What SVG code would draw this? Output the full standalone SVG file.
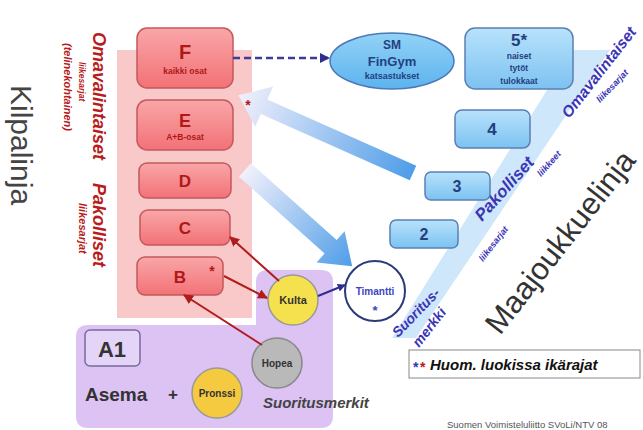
<svg xmlns="http://www.w3.org/2000/svg" width="643" height="430" viewBox="0 0 643 430">
<defs>
<style>
text{font-family:"Liberation Sans",Arial,sans-serif;}
.rb{fill:url(#gRed);stroke:#c4585c;stroke-width:1.5;}
.rt{fill:#b01818;font-weight:bold;text-anchor:middle;}
.bb{fill:url(#gBlue);stroke:#5b7fb5;stroke-width:1.5;}
.bt{fill:#23407f;font-weight:bold;text-anchor:middle;}
.lt{fill:#b81c1c;font-weight:bold;font-style:italic;}
.vt{fill:#3b35b5;font-weight:bold;font-style:italic;}
.ct{fill:#333;font-weight:bold;text-anchor:middle;}
.red{stroke:#b01c1c;stroke-width:2;fill:none;marker-end:url(#mRed);}
</style>
<linearGradient id="gRed" x1="0" y1="0" x2="0" y2="1"><stop offset="0" stop-color="#f9a6a8"/><stop offset="1" stop-color="#f27277"/></linearGradient>
<linearGradient id="gBlue" x1="0" y1="0" x2="0" y2="1"><stop offset="0" stop-color="#b8e2fb"/><stop offset="1" stop-color="#7cc2f1"/></linearGradient>
<linearGradient id="gEll" x1="0" y1="0" x2="0" y2="1"><stop offset="0" stop-color="#92d2f6"/><stop offset="1" stop-color="#5cb3ee"/></linearGradient>
<linearGradient id="gA1" gradientUnits="userSpaceOnUse" x1="0" y1="0" x2="191" y2="0"><stop offset="0" stop-color="#4f9de8"/><stop offset="1" stop-color="#f2f0fb"/></linearGradient>
<linearGradient id="gA2" gradientUnits="userSpaceOnUse" x1="0" y1="0" x2="144" y2="0"><stop offset="0" stop-color="#f2f0fb"/><stop offset="1" stop-color="#4f9de8"/></linearGradient>
<marker id="mRed" viewBox="0 0 10 10" refX="9" refY="5" markerWidth="5" markerHeight="5" orient="auto"><path d="M0,0 L10,5 L0,10 Z" fill="#b01c1c"/></marker>
<marker id="mNavy" viewBox="0 0 10 10" refX="9" refY="5" markerWidth="4" markerHeight="4" orient="auto"><path d="M0,0 L10,5 L0,10 Z" fill="#2e2e8c"/></marker>
</defs>
<rect width="643" height="430" fill="#fff"/>

<!-- backgrounds -->
<rect x="117" y="50" width="135" height="268" fill="#f9c8c9"/>
<path d="M268,270 H321 Q333,270 333,282 V416 Q333,428 321,428 H88 Q76,428 76,416 V337 Q76,325 88,325 H256 V282 Q256,270 268,270 Z" fill="#dcc3f4"/>
<polygon points="572,50 610,50 416,338 392,338" fill="#cfe7fa"/>

<!-- block arrows -->
<polygon transform="translate(413,173) rotate(204)" points="0,-8 163,-8 163,-22 191,0 163,22 163,8 0,8" fill="url(#gA1)"/>
<polygon transform="translate(245,170) rotate(41.9)" points="0,-9 115,-9 115,-21 144,0 115,21 115,9 0,9" fill="url(#gA2)"/>

<!-- left labels -->
<text transform="translate(11,85) rotate(90)" font-size="30" fill="#444">Kilpalinja</text>
<text class="lt" transform="translate(93,32) rotate(90)" font-size="18">Omavalintaiset</text>
<text class="lt" transform="translate(79,62) rotate(90)" font-size="8.5">liikesarjat</text>
<text class="lt" transform="translate(64,43) rotate(90)" font-size="11">(telinekohtainen)</text>
<text class="lt" transform="translate(93,183) rotate(90)" font-size="18">Pakolliset</text>
<text class="lt" transform="translate(79,203) rotate(90)" font-size="11">liikesarjat</text>

<!-- right labels -->
<text class="vt" transform="translate(569,119) rotate(-52)" font-size="15.5">Omavalintaiset</text>
<text class="vt" transform="translate(600,103) rotate(-46)" font-size="9">liikesarjat</text>
<text class="vt" transform="translate(482,222) rotate(-48)" font-size="17">Pakolliset</text>
<text class="vt" transform="translate(541,177) rotate(-48)" font-size="9">liikkeet</text>
<text class="vt" transform="translate(483,262) rotate(-52)" font-size="9">liikesarjat</text>
<text class="vt" transform="translate(398,338) rotate(-46)" font-size="14">Suoritus-</text>
<text class="vt" transform="translate(419,348) rotate(-52)" font-size="14">merkki</text>
<text transform="translate(500,336) rotate(-52)" font-size="31" fill="#333">Maajoukkuelinja</text>

<!-- nodes -->
<g id="F"><rect class="rb" x="137" y="28" width="96" height="60" rx="10"/><text class="rt" x="185" y="59" font-size="20">F</text><text class="rt" x="185" y="74" font-size="8.5">kaikki osat</text></g>
<g id="E"><rect class="rb" x="137" y="100" width="96" height="50" rx="10"/><text class="rt" x="185" y="127" font-size="18">E</text><text class="rt" x="185" y="140" font-size="8.5">A+B-osat</text></g>
<g id="D"><rect class="rb" x="139" y="163" width="92" height="35" rx="8"/><text class="rt" x="185" y="187" font-size="17">D</text></g>
<g id="C"><rect class="rb" x="140" y="210" width="90" height="35" rx="8"/><text class="rt" x="185" y="234" font-size="17">C</text></g>
<g id="B"><rect class="rb" x="137" y="257" width="86" height="38" rx="8"/><text class="rt" x="180" y="283" font-size="17">B</text><text class="rt" x="212" y="276" font-size="14">*</text></g>
<g id="Estar"><text class="rt" x="248" y="110" font-size="14">*</text></g>

<g id="SM"><ellipse cx="392" cy="61" rx="62" ry="28" fill="url(#gEll)" stroke="#4a78b8" stroke-width="1.5"/><text class="bt" x="392" y="49" font-size="12">SM</text><text class="bt" x="392" y="66" font-size="13">FinGym</text><text class="bt" x="392" y="79" font-size="9">katsastukset</text></g>
<g id="L5"><rect class="bb" x="465" y="28" width="108" height="61" rx="10"/><text class="bt" x="519" y="46" font-size="17">5*</text><text class="bt" x="519" y="59" font-size="8.5" font-weight="normal">naiset</text><text class="bt" x="519" y="71" font-size="8.5" font-weight="normal">tytöt</text><text class="bt" x="519" y="84" font-size="8.5" font-weight="normal">tulokkaat</text></g>
<g id="L4"><rect class="bb" x="455" y="110" width="75" height="38" rx="7"/><text class="bt" x="492" y="135" font-size="17">4</text></g>
<g id="L3"><rect class="bb" x="425" y="172" width="65" height="28" rx="6"/><text class="bt" x="457" y="192" font-size="16">3</text></g>
<g id="L2"><rect class="bb" x="390" y="220" width="68" height="28" rx="6"/><text class="bt" x="424" y="240" font-size="16">2</text></g>

<g id="Timantti"><circle cx="375" cy="291" r="30" fill="#fff" stroke="#2b3a78" stroke-width="2"/><text x="375" y="295" font-size="10" font-weight="bold" fill="#3b45c0" text-anchor="middle">Timantti</text><text x="375" y="315" font-size="13" font-weight="bold" fill="#3b45c0" text-anchor="middle">*</text></g>
<g id="Kulta"><circle cx="293" cy="300" r="25" fill="#f5e04e" stroke="#999" stroke-width="1.5"/><text class="ct" x="293" y="304" font-size="11">Kulta</text></g>
<g id="Hopea"><circle cx="277" cy="363" r="25" fill="#b9b9b9" stroke="#888" stroke-width="1.5"/><text class="ct" x="277" y="367" font-size="10">Hopea</text></g>
<g id="Pronssi"><circle cx="217" cy="393" r="25" fill="#f5c940" stroke="#999" stroke-width="1.5"/><text class="ct" x="217" y="397" font-size="10">Pronssi</text></g>
<g id="A1"><rect x="85" y="330" width="55" height="36" rx="5" fill="#e4d4f8" stroke="#7a6a9a" stroke-width="1.5"/><text class="ct" x="112" y="357" font-size="22">A1</text></g>
<g id="Asema"><text x="85" y="401" font-size="19" font-weight="bold" fill="#333">Asema</text><text class="ct" x="173" y="400" font-size="17">+</text></g>
<text x="263" y="408" font-size="15" font-weight="bold" font-style="italic" fill="#444">Suoritusmerkit</text>

<g id="legend"><rect x="409" y="350" width="231" height="28" fill="#fff" stroke="#888" stroke-width="1"/><text x="413" y="372" font-size="14" font-weight="bold" fill="#2b3ab5">*</text><text x="420" y="372" font-size="14" font-weight="bold" fill="#c01818">*</text><text x="430" y="370" font-size="15" font-weight="bold" font-style="italic" fill="#111">Huom. luokissa ikärajat</text></g>
<text x="447" y="428" font-size="9.5" fill="#555">Suomen Voimisteluliitto SVoLi/NTV 08</text>

<!-- connectors -->
<g id="connectors">
<line x1="233" y1="58" x2="329" y2="58" stroke="#3c3c9c" stroke-width="2.5" stroke-dasharray="7,4" marker-end="url(#mNavy)"/>
<line class="red" x1="279" y1="281" x2="230" y2="237"/>
<line class="red" x1="224" y1="276" x2="267" y2="298"/>
<line class="red" x1="262" y1="345" x2="184" y2="295"/>
<line x1="318" y1="296" x2="345" y2="285" stroke="#2e2e8c" stroke-width="2" marker-end="url(#mNavy)"/>
</g>
</svg>
